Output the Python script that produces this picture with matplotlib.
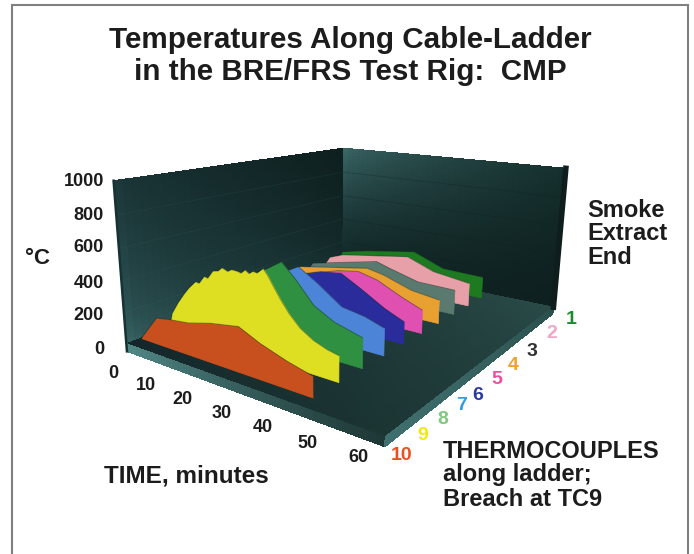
"""BRE/FRS cable-ladder temperature ribbons, drawn on a 3D axes."""
import numpy as np
import matplotlib
matplotlib.use("Agg")
import matplotlib.pyplot as plt
from matplotlib.colors import to_rgb
from matplotlib.patches import Rectangle
from mpl_toolkits.mplot3d.art3d import Poly3DCollection

plt.rcParams["font.family"] = ["Liberation Sans", "DejaVu Sans"]
W, H = 694, 554
INK = "#1c1c1c"

# one (time, temperature) series per thermocouple
TIME_1 = [0, 2.4, 10, 24.6, 33, 43.5]
TEMP_1 = [0, 146, 193, 258, 167, 159]
TIME_2 = [0, 3.6, 7.8, 27, 34.2, 43.5]
TEMP_2 = [0, 153, 195, 278, 202, 166]
TIME_3 = [0, 3.6, 22.8, 26.4, 34.2, 43.5]
TEMP_3 = [0, 153, 268, 237, 178, 173]
TIME_4 = [0, 5.4, 25, 29.4, 36.6, 43.5]
TEMP_4 = [0, 186, 280, 256, 189, 163]
TIME_5 = [0, 5, 15, 22.2, 27.6, 32.4, 38.4, 43.5]
TEMP_5 = [0, 150, 240, 300, 323, 292, 214, 157]
TIME_6 = [0, 5, 15, 22.8, 28.2, 33, 39, 43.5]
TEMP_6 = [0, 170, 280, 349, 367, 296, 200, 145]
TIME_7 = [0, 5, 15, 22.8, 27.6, 33.6, 39, 43.5]
TEMP_7 = [0, 180, 320, 434, 355, 240, 214, 173]
TIME_8 = [0, 5, 15, 20, 24.6, 28.2, 32.4, 37.2, 43.5]
TEMP_8 = [0, 200, 380, 447, 525, 432, 303, 233, 185]
TIME_9 = [0, 1, 3, 5, 6.5, 8.5, 9.5, 11, 12, 13.5, 15, 16, 17.5, 18.5, 20, 21, 22, 23, 24, 25, 26.5, 27.5, 29, 30.5, 32.5, 35, 38, 41, 43.5]
TEMP_9 = [0, 106, 190, 262, 310, 362, 358, 410, 405, 458, 468, 492, 478, 495, 493, 488, 512, 496, 515, 510, 545, 515, 451, 390, 318, 250, 200, 170, 155]
TIME_10 = [0, 5, 9, 14, 20, 27, 32, 38, 43.5]
TEMP_10 = [0, 167, 185, 200, 240, 271, 211, 158, 121]

TC_IDS = [1, 2, 3, 4, 5, 6, 7, 8, 9, 10]
TIMES = [TIME_1, TIME_2, TIME_3, TIME_4, TIME_5, TIME_6, TIME_7, TIME_8, TIME_9, TIME_10]
TEMPS = [TEMP_1, TEMP_2, TEMP_3, TEMP_4, TEMP_5, TEMP_6, TEMP_7, TEMP_8, TEMP_9, TEMP_10]
RIBBON_COLORS = ["#1E7A20", "#E8A0A8", "#5A7A70", "#E8A030", "#E050B0",
                 "#2A2C9C", "#4C84D8", "#2E9040", "#DEDE22", "#C8501E"]
TC_LABEL_COLORS = ["#1E8A30", "#F0A8C8", "#333333", "#F0A030", "#EC4EA0",
                   "#2A3A9C", "#2E9CE6", "#7FC87F", "#F5E61A", "#E8501E"]
TIME_TICKS = [0, 10, 20, 30, 40, 50, 60]
TEMP_TICKS = [0, 200, 400, 600, 800, 1000]

# pixel spots of the labels
TIME_LABEL_PX = [(113, 373), (146, 386), (182, 400), (222, 414), (263, 428), (308, 443), (358, 458)]
TEMP_LABEL_Y = [349, 315, 283, 248, 215, 181]
TC_LABEL_PX = [(571, 319), (552, 334), (532, 351), (513, 366), (497, 379),
               (478, 395), (462, 405), (443, 420), (423, 436), (402, 455)]

fig = plt.figure(figsize=(W / 100, H / 100), dpi=100, facecolor="white")
fig.add_artist(Rectangle((12 / W, -0.01), (688 - 12) / W, 1.01 - 5 / H, transform=fig.transFigure,
                         fill=False, edgecolor="#808080", linewidth=1.5))

# camera settled by fitting the box corners to the picture
ax = fig.add_axes([120.1 / W, 64.6 / H, 464 / W, 464 / H], projection="3d", computed_zorder=False)
ax.view_init(14.759, -55.359, -0.745)
ax.set_proj_type("persp", focal_length=0.275)
ax.set_box_aspect((1.872, 2.238, 1.0))
ax.set_xlim(0, 60)
ax.set_ylim(10.5, 0.5)
ax.set_zlim(0, 1000)
ax.set_axis_off()
ax.patch.set_alpha(0)


def shade(c00, c10, c01, c11, gu=1.0, gv=1.0, n=40):
    """Bilinear gradient from four corner colours, with a bend per direction."""
    a = (np.linspace(0, 1, n) ** gu)[:, None, None]
    b = (np.linspace(0, 1, n) ** gv)[None, :, None]
    c00, c10, c01, c11 = [np.array(to_rgb(c))[None, None, :] for c in (c00, c10, c01, c11)]
    return (1 - a) * (1 - b) * c00 + a * (1 - b) * c10 + (1 - a) * b * c01 + a * b * c11


def panel(X, Y, Z, colors, zo):
    ax.plot_surface(X, Y, Z, facecolors=colors, shade=False, linewidth=0,
                    antialiased=False, rstride=1, cstride=1, zorder=zo)


u = np.linspace(0, 1, 41)
v = np.linspace(0, 1, 41)
U, V = np.meshgrid(u, v, indexing="ij")
YFRONT, YBACK, ZSLAB = 10.5, 0.5, -50

# left wall (time = 0): u along the ladder, v upward
panel(0 * U, YFRONT + (YBACK - YFRONT) * U, ZSLAB + (1000 - ZSLAB) * V,
      shade("#427474", "#1a3636", "#1c383a", "#0e1f1f", gu=0.6, gv=0.4), 1)
# back wall (TC1 end): u along time, v upward
panel(60 * U, YBACK + 0 * U, 1000 * V,
      shade("#132a2a", "#0e201f", "#3a6565", "#15302e", gu=0.7, gv=1.6), 1)
# floor top
panel(60 * U, YFRONT + (YBACK - YFRONT) * V, 0 * U,
      shade("#14262a", "#1b3533", "#1e3a38", "#294a47"), 2)
# slab edges
panel(60 * U, YFRONT + 0 * U, ZSLAB * (1 - V),
      shade("#4f8684", "#1e3836", "#4f8684", "#1e3836"), 3)
panel(60 + 0 * U, YFRONT + (YBACK - YFRONT) * U, ZSLAB * (1 - V),
      shade("#3f6f6e", "#2a4f4c", "#3f6f6e", "#2a4f4c"), 3)
# wall edges and faint rules at the temperature ticks
for tick in TEMP_TICKS[1:-1]:
    ax.plot([0, 0], [YFRONT, YBACK], [tick, tick], color="#3c6a68", lw=0.5, alpha=0.2, zorder=1.5)
    ax.plot([0, 60], [YBACK, YBACK], [tick, tick], color="#0f2020", lw=0.6, alpha=0.35, zorder=1.5)
ax.plot([0, 0], [YFRONT, YFRONT], [ZSLAB, 1000], color="#163232", lw=1.8, zorder=4)
ax.plot([60, 60], [YBACK, YBACK], [0, 1000], color="#0d1e1c", lw=4, zorder=4)

for tc, times, temps, color in zip(TC_IDS, TIMES, TEMPS, RIBBON_COLORS):
    t = np.array(times, float)
    z = np.array(temps, float)
    y = np.full_like(t, tc)
    poly_t = np.append(t, t[-1])
    poly_z = np.append(z, 0)
    verts = [list(zip(poly_t, np.full_like(poly_t, tc), poly_z))]
    ax.add_collection3d(Poly3DCollection(verts, facecolors=color, edgecolors=color,
                                         linewidths=0.5, zorder=10 + tc))
    ax.plot(t, y, z, color="#0f2a20", lw=0.7, alpha=0.4, zorder=10.5 + tc)

# the wall corner falls just outside the axes box
for art in list(ax.collections) + list(ax.lines):
    art.set_clip_on(False)


def px_text(x, y, s, **kw):
    fig.text(x / W, 1 - y / H, s, fontweight="bold", **kw)


px_text(350, 40, "Temperatures Along Cable-Ladder", fontsize=21.3, ha="center", va="center", color=INK)
px_text(350, 72, "in the BRE/FRS Test Rig:  CMP", fontsize=21.3, ha="center", va="center", color=INK)
for tick, y in zip(TEMP_TICKS, TEMP_LABEL_Y):
    px_text(104, y, str(tick), fontsize=13, ha="right", va="center", color=INK)
for tick, (x, y) in zip(TIME_TICKS, TIME_LABEL_PX):
    px_text(x, y, str(tick), fontsize=13, ha="center", va="center", color=INK)
for tc, (x, y), color in zip(TC_IDS, TC_LABEL_PX, TC_LABEL_COLORS):
    px_text(x, y, str(tc), fontsize=14, ha="center", va="center", color=color)
px_text(38, 258, "°C", fontsize=16, ha="center", va="center", color=INK)
for y, s in zip([210, 234, 258], ["Smoke", "Extract", "End"]):
    px_text(587, y, s, fontsize=17, ha="left", va="center", color=INK)
for y, s in zip([452, 475, 499], ["THERMOCOUPLES", "along ladder;", "Breach at TC9"]):
    px_text(443, y, s, fontsize=17, ha="left", va="center", color=INK)
px_text(104, 476, "TIME, minutes", fontsize=17.5, ha="left", va="center", color=INK)

fig.savefig("out.png", dpi=100)
